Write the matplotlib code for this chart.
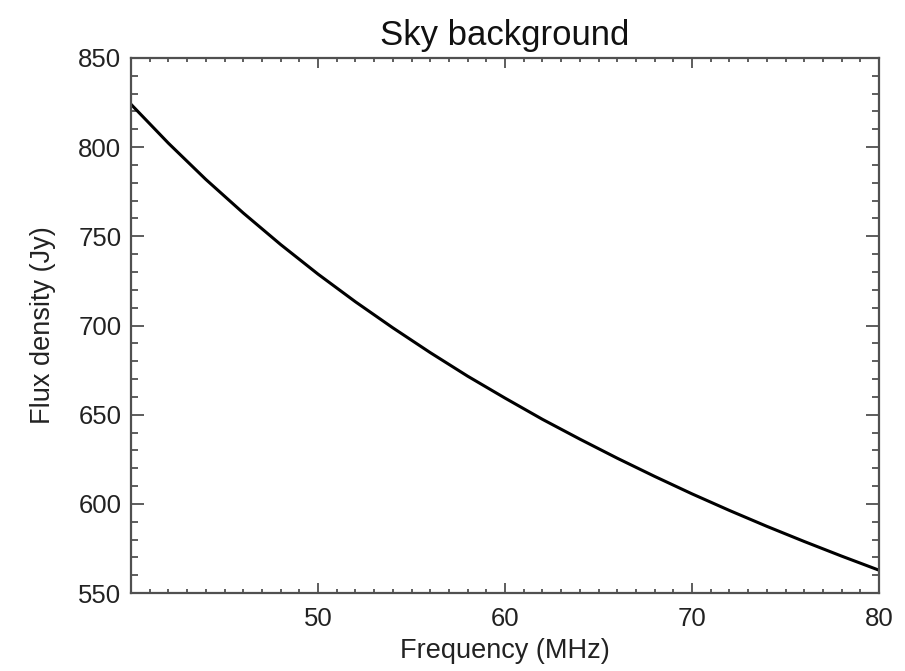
import matplotlib
matplotlib.use("Agg")
import matplotlib.pyplot as plt
from matplotlib.ticker import MultipleLocator

# Sky background flux density versus observing frequency
freq_mhz = [40, 42, 44, 46, 48, 50, 52, 54, 56, 58, 60,
            62, 64, 66, 68, 70, 72, 74, 76, 78, 80]
flux_jy = [824.0, 802.2, 781.9, 763.1, 745.4, 728.8, 713.3, 698.7, 684.8, 671.6, 659.3,
           647.4, 636.3, 625.6, 615.4, 605.6, 596.3, 587.4, 578.9, 570.7, 562.8]

title_text = "Sky background"
x_label = "Frequency (MHz)"
y_label = "Flux density (Jy)"
x_range = (40, 80)
y_range = (550, 850)

plt.rcParams["font.family"] = ["Liberation Sans", "DejaVu Sans"]

fig = plt.figure(figsize=(9.05, 6.71), dpi=100)
ax = fig.add_axes([0.1448, 0.1162, 0.9713 - 0.1448, 0.9136 - 0.1162])

ax.plot(freq_mhz, flux_jy, color="black", linewidth=2.2)

ax.set_xlim(*x_range)
ax.set_ylim(*y_range)

ax.xaxis.set_major_locator(MultipleLocator(10))
ax.xaxis.set_minor_locator(MultipleLocator(1))
ax.yaxis.set_major_locator(MultipleLocator(50))
ax.yaxis.set_minor_locator(MultipleLocator(10))

axis_color = "#505050"
for sp in ax.spines.values():
    sp.set_color(axis_color)
    sp.set_linewidth(1.6)

ax.tick_params(axis="both", which="both", direction="in", top=True, right=True,
               color=axis_color, width=1.3, labelcolor="#222222")
ax.tick_params(axis="x", which="major", length=7, pad=10, labelsize=18.5)
ax.tick_params(axis="x", which="minor", length=3.2)
ax.tick_params(axis="y", which="major", length=9.5, pad=7, labelsize=18.5)
ax.tick_params(axis="y", which="minor", length=5)

# the 40 label is left off so it does not collide with the 550 label at the corner
ax.set_xticks([t for t in ax.get_xticks() if x_range[0] <= t <= x_range[1]])
ax.set_xticklabels(["" if t == x_range[0] else f"{int(t)}" for t in ax.get_xticks()])

ax.set_xlabel(x_label, fontsize=19.5, color="#222222", labelpad=5)
ax.set_ylabel(y_label, fontsize=19.5, color="#222222", labelpad=16)
ax.set_title(title_text, fontsize=25, color="#111111", pad=9)

fig.savefig("out.png", dpi=100, facecolor="white")
